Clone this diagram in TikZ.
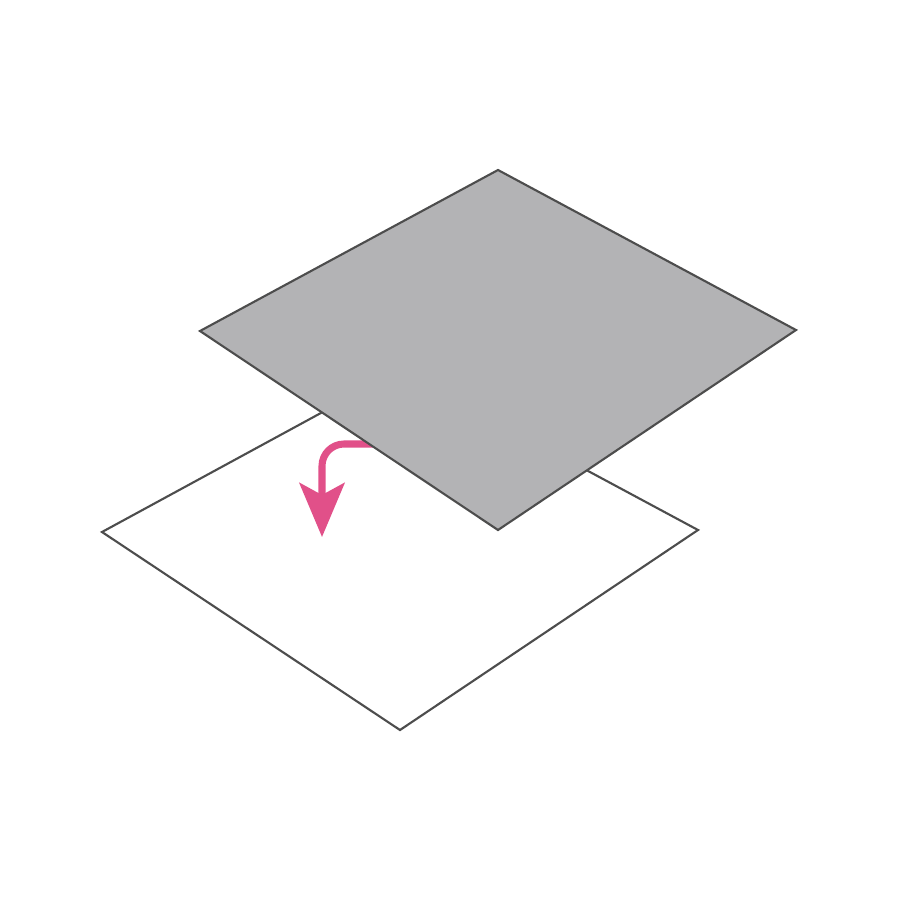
\documentclass[tikz,border=0pt]{standalone}
\usetikzlibrary{arrows.meta}
\definecolor{sheetgray}{RGB}{179,179,181}
\definecolor{edgegray}{RGB}{77,77,77}
\definecolor{foldpink}{RGB}{225,80,137}
\tikzset{sheet/.style={draw=edgegray, line width=0.6pt, line join=miter}}
\begin{document}
\begin{tikzpicture}[x=0.01cm, y=-0.01cm]
\useasboundingbox (0,0) rectangle (900,900);
% lower sheet
\coordinate (wl) at (102,532);
\coordinate (wt) at (400,370);
\coordinate (wr) at (698,530);
\coordinate (wb) at (400,730);
\draw[sheet, fill=white] (wl)--(wt)--(wr)--(wb)--cycle;
% arrow
\coordinate (as) at (385,444);
\coordinate (ah) at (322,537);
\draw[foldpink, line width=2pt, rounded corners=0.22cm, -{Stealth[length=0.54cm, width=0.45cm, inset=0.12cm]}] (as) -| (ah);
% upper sheet
\coordinate (gl) at (200,331);
\coordinate (gt) at (498,170);
\coordinate (gr) at (796,330);
\coordinate (gb) at (498,530);
\draw[sheet, fill=sheetgray] (gl)--(gt)--(gr)--(gb)--cycle;
\end{tikzpicture}
\end{document}
